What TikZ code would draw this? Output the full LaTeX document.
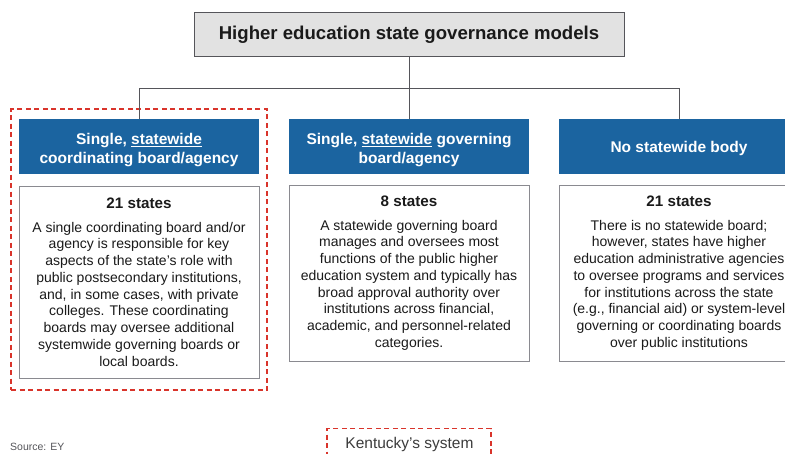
\documentclass[tikz,border=0pt]{standalone}
\usepackage{fontspec}
\setmainfont{Liberation Sans}
\definecolor{hdrblue}{HTML}{1B64A0}
\definecolor{titlegray}{HTML}{E2E2E2}
\definecolor{edgegray}{HTML}{55555A}
\definecolor{boxgray}{HTML}{8A8A90}
\definecolor{kyred}{HTML}{D9342B}
\definecolor{txt}{HTML}{1A1A1A}
\newcommand{\wul}[1]{\underline{#1}}
\newcommand{\hstrut}{\rule{0pt}{18pt}}
\tikzset{
  titlebox/.style={draw=edgegray, line width=1pt, fill=titlegray, minimum width=430pt, minimum height=44pt, inner sep=0pt, font=\fontsize{18.6}{22}\selectfont\bfseries, text=txt},
  hdr/.style={fill=hdrblue, minimum width=240pt, minimum height=55pt, inner sep=0pt, align=center, text=white, font=\fontsize{15.5}{19}\selectfont\bfseries},
  bodybox/.style={draw=boxgray, line width=1pt, fill=white, minimum width=240pt, inner sep=0pt, align=center, text=txt, font=\fontsize{14}{16.75}\selectfont},
  conn/.style={draw=edgegray, line width=0.9pt},
  kydash/.style={draw=kyred, line width=1.1pt, dash pattern=on 5pt off 3.5pt},
}
\newcommand{\sthead}[1]{{\fontsize{15.2}{17}\selectfont\bfseries #1}\\[7pt]}
\begin{document}
\begin{tikzpicture}[x=1pt,y=-1pt]
\useasboundingbox (0,0) rectangle (785,453);
\clip (0,0) rectangle (785,453);
\fill[white] (0,0) rectangle (785,453);

% dashed highlight
\node[kydash, minimum width=256pt, minimum height=281pt, inner sep=0pt] (hl) at (139,249.5) {};

% title
\node[titlebox] (title) at (409,34.5) {Higher education state governance models};

% headers
\node[hdr] (h1) at (139,146.5) {\hstrut Single, \wul{statewide}\\coordinating board/agency};
\node[hdr] (h2) at (409,146.5) {\hstrut Single, \wul{statewide} governing\\board/agency};
\node[hdr] (h3) at (679,146.5) {\rule{0pt}{15pt}No statewide body};

% connectors
\coordinate (j) at (409,88);
\coordinate (j1) at (139,88);
\coordinate (j3) at (679,88);
\draw[conn] (title.south) -- (j);
\draw[conn] (j1) -- (j3);
\draw[conn] (j1) -- (h1.north);
\draw[conn] (j) -- (h2.north);
\draw[conn] (j3) -- (h3.north);

% bodies
\node[bodybox, minimum height=192pt] (b1) at (139,282) {\sthead{21 states}%
A single coordinating board and/or\\
agency is responsible for key\\
aspects of the state's role with\\
public postsecondary institutions,\\
and, in some cases, with private\\
colleges. These coordinating\\
boards may oversee additional\\
systemwide governing boards or\\
local boards.};
\node[bodybox, minimum height=176pt] (b2) at (409,273) {\sthead{8 states}%
A statewide governing board\\
manages and oversees most\\
functions of the public higher\\
education system and typically has\\
broad approval authority over\\
institutions across financial,\\
academic, and personnel-related\\
categories.};
\node[bodybox, minimum height=176pt] (b3) at (679,273) {\sthead{21 states}%
There is no statewide board;\\
however, states have higher\\
education administrative agencies\\
to oversee programs and services\\
for institutions across the state\\
(e.g., financial aid) or system-level\\
governing or coordinating boards\\
over public institutions};

% bottom
\node[kydash, minimum width=164pt, minimum height=40pt, inner sep=0pt, anchor=north] (ky) at (409,428) {};
\node[font=\fontsize{15.5}{18}\selectfont, text=txt!85!white, inner sep=0pt] (kyt) at (409.5,444) {Kentucky's system};
\node[font=\fontsize{10.5}{12}\selectfont, text=edgegray, inner sep=0pt, anchor=west] (src) at (10,446.5) {Source: EY};
\end{tikzpicture}
\end{document}
